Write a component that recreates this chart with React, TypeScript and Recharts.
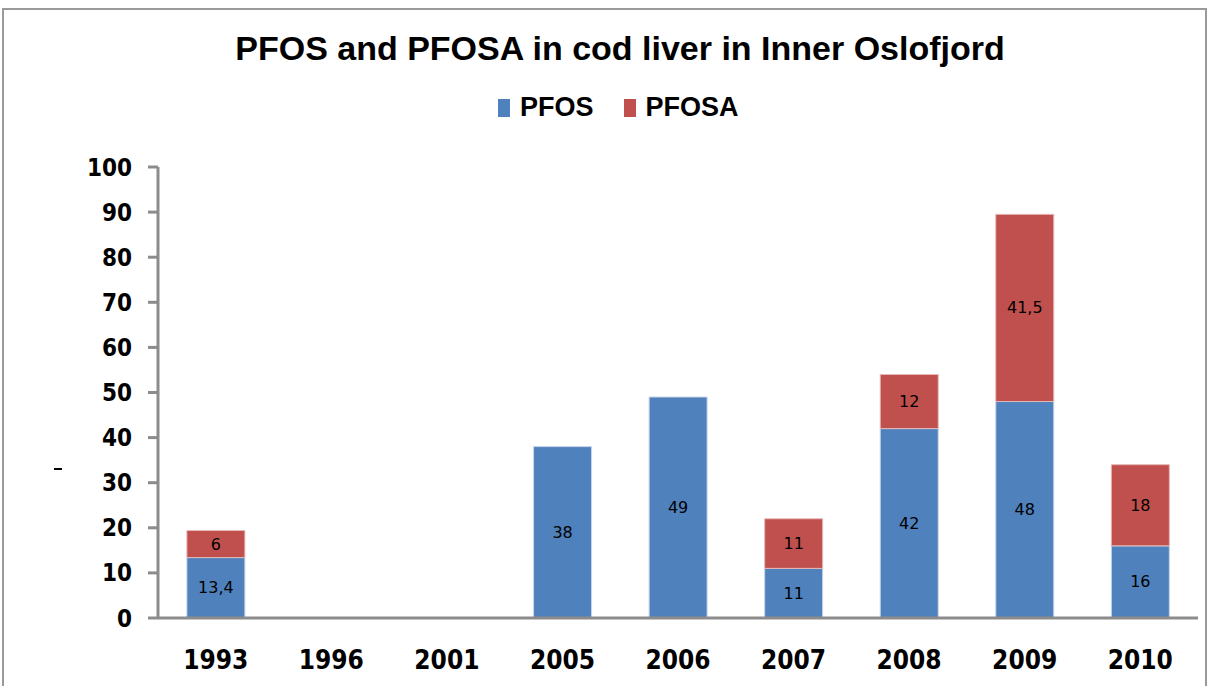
import { BarChart, Bar, XAxis, YAxis, LabelList } from "recharts";

const years = ["1993", "1996", "2001", "2005", "2006", "2007", "2008", "2009", "2010"];
const pfos = [13.4, null, null, 38, 49, 11, 42, 48, 16];
const pfosa = [6, null, null, null, null, 11, 12, 41.5, 18];
const yTicks = [0, 10, 20, 30, 40, 50, 60, 70, 80, 90, 100];

const data = years.map((year, i) => ({ year, PFOS: pfos[i], PFOSA: pfosa[i] }));

const BLUE = "#4F81BD";
const RED = "#C0504D";
const AXIS = "#8c8c8c";

const renderLabel = (props: any) => {
    const { x, y, width, height, value } = props;
    if (value === null || value === undefined || value === 0) return null;
    return (
        <text
            x={Number(x) + Number(width) / 2}
            y={Number(y) + Number(height) / 2}
            textAnchor="middle"
            dominantBaseline="central"
            fontFamily="DejaVu Sans, Verdana, sans-serif"
            fontSize={16}
            fill="#000"
        >
            {String(value).replace(".", ",")}
        </text>
    );
};

export default function App() {
    return (
        <div style={{ position: "absolute", left: 0, top: 0, width: 1210, height: 686, overflow: "hidden", background: "#fff" }}>
            <div style={{ position: "absolute", left: 2, top: 8, width: 1201, height: 690, border: "2px solid #9a9a9a" }} />
            <div
                style={{
                    position: "absolute", left: 0, width: 1240, top: 29, textAlign: "center",
                    fontFamily: "'Liberation Sans', sans-serif",
                    fontWeight: "bold", fontSize: 34, color: "#000",
                }}
            >
                PFOS and PFOSA in cod liver in Inner Oslofjord
            </div>
            <div
                style={{
                    position: "absolute", left: 498, top: 92, display: "flex", alignItems: "center",
                    fontFamily: "'Liberation Sans', sans-serif",
                    fontWeight: "bold", fontSize: 27, color: "#000",
                }}
            >
                <span style={{ width: 12, height: 18, background: BLUE, display: "inline-block", marginRight: 10 }} />
                <span style={{ marginRight: 30 }}>PFOS</span>
                <span style={{ width: 12, height: 18, background: RED, display: "inline-block", marginRight: 10 }} />
                <span>PFOSA</span>
            </div>
            <div style={{ position: "absolute", left: 54, top: 468, width: 8, height: 2, background: "#000" }} />
            <BarChart
                width={1210}
                height={686}
                data={data}
                margin={{ top: 167, right: 12, bottom: 8, left: 0 }}
                barCategoryGap="25%"
                style={{ position: "absolute", left: 0, top: 0 }}
            >
                <XAxis
                    dataKey="year"
                    axisLine={{ stroke: AXIS, strokeWidth: 3 }}
                    tickLine={false}
                    height={60}
                    tickMargin={27}
                    tick={{ fill: "#000", fontFamily: "'DejaVu Sans Condensed', 'DejaVu Sans', sans-serif", fontWeight: "bold", fontSize: 26 }}
                />
                <YAxis
                    domain={[0, 100]}
                    ticks={yTicks}
                    interval={0}
                    width={158}
                    axisLine={{ stroke: AXIS, strokeWidth: 3 }}
                    tickLine={{ stroke: AXIS, strokeWidth: 3 }}
                    tickSize={10}
                    tickMargin={16}
                    tick={{ fill: "#000", fontFamily: "'DejaVu Sans Condensed', 'DejaVu Sans', sans-serif", fontWeight: "bold", fontSize: 24 }}
                />
                <Bar dataKey="PFOS" stackId="a" fill={BLUE} stroke="#c9d6ea" strokeWidth={1} isAnimationActive={false}>
                    <LabelList dataKey="PFOS" content={renderLabel} />
                </Bar>
                <Bar dataKey="PFOSA" stackId="a" fill={RED} stroke="#e6b9b8" strokeWidth={1} isAnimationActive={false}>
                    <LabelList dataKey="PFOSA" content={renderLabel} />
                </Bar>
            </BarChart>
        </div>
    );
}
